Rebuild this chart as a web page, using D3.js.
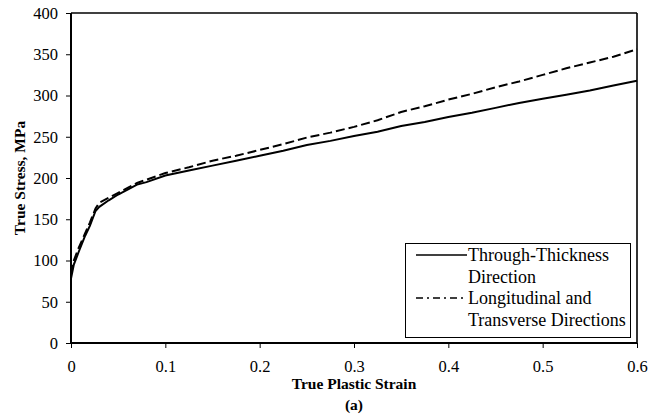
<!DOCTYPE html>
<html>
<head>
<meta charset="utf-8">
<script src="https://cdn.jsdelivr.net/npm/d3@7"></script>
<style>
  html, body { margin: 0; padding: 0; background: #fff; }
  svg { display: block; }
  text { font-family: "Liberation Serif", "Times New Roman", serif; fill: #000; }
</style>
</head>
<body>
<svg id="chart" width="659" height="420"></svg>
<script>
// True plastic strain (x) and true stress in MPa (y) for each test direction
const throughStrain = [0, 0.003, 0.008, 0.015, 0.02, 0.026, 0.03, 0.04, 0.05, 0.06, 0.07, 0.08, 0.1, 0.125, 0.15, 0.175, 0.2, 0.225, 0.25, 0.275, 0.3, 0.325, 0.35, 0.375, 0.4, 0.425, 0.45, 0.475, 0.5, 0.525, 0.55, 0.575, 0.6];
const throughStress = [78, 95, 110, 130, 142, 160, 165, 173, 180, 186, 192, 195, 203, 209, 215, 221, 227, 233, 240, 245, 251, 256, 263, 268, 274, 279, 285, 291, 296, 301, 306, 312, 318];

const longStrain = [0, 0.003, 0.008, 0.015, 0.02, 0.026, 0.03, 0.04, 0.05, 0.06, 0.07, 0.08, 0.1, 0.125, 0.15, 0.175, 0.2, 0.225, 0.25, 0.275, 0.3, 0.325, 0.35, 0.375, 0.4, 0.425, 0.45, 0.475, 0.5, 0.525, 0.55, 0.575, 0.6];
const longStress = [84, 100, 115, 133, 146, 163, 170, 176, 182, 188, 194, 198, 206, 213, 221, 227, 234, 241, 249, 255, 262, 270, 280, 287, 295, 302, 310, 317, 325, 333, 340, 347, 356];

const xTicks = [0, 0.1, 0.2, 0.3, 0.4, 0.5, 0.6];
const yTicks = [0, 50, 100, 150, 200, 250, 300, 350, 400];

const legendLines1 = ["Through-Thickness", "Direction"];
const legendLines2 = ["Longitudinal and", "Transverse Directions"];

const svg = d3.select("#chart");
const plotLeft = 71, plotRight = 637, plotTop = 13, plotBottom = 343;

const x = d3.scaleLinear().domain([0, 0.6]).range([plotLeft, plotRight]);
const y = d3.scaleLinear().domain([0, 400]).range([plotBottom, plotTop]);

// frame (top and right edges)
svg.append("line").attr("x1", plotLeft).attr("x2", plotRight).attr("y1", plotTop).attr("y2", plotTop)
  .attr("stroke", "#000").attr("stroke-width", 1.6);
svg.append("line").attr("x1", plotRight).attr("x2", plotRight).attr("y1", plotTop).attr("y2", plotBottom)
  .attr("stroke", "#000").attr("stroke-width", 1.6);

// axes
const xAxis = svg.append("g").attr("transform", `translate(0,${plotBottom})`)
  .call(d3.axisBottom(x).tickValues(xTicks).tickSize(5).tickPadding(12)
    .tickFormat(d => d === 0 ? "0" : d3.format(".1f")(d)));
const yAxis = svg.append("g").attr("transform", `translate(${plotLeft},0)`)
  .call(d3.axisLeft(y).tickValues(yTicks).tickSize(5).tickPadding(8));

[xAxis, yAxis].forEach(g => {
  g.select(".domain").attr("stroke", "#000").attr("stroke-width", 2);
  g.selectAll(".tick line").attr("stroke", "#000").attr("stroke-width", 1);
  g.selectAll(".tick text").style("font-family", "'Liberation Serif', serif").style("font-size", "16.5px");
});
yAxis.select(".domain").attr("d", `M0,${plotTop}V${plotBottom}`);
xAxis.select(".domain").attr("d", `M${plotLeft},0H${plotRight}`);

// curves
const line = d3.line().x(d => x(d[0])).y(d => y(d[1]));
const throughData = throughStrain.map((s, i) => [s, throughStress[i]]);
const longData = longStrain.map((s, i) => [s, longStress[i]]);

svg.append("path").datum(longData).attr("d", line)
  .attr("fill", "none").attr("stroke", "#000").attr("stroke-width", 2)
  .attr("stroke-dasharray", "9,4");
svg.append("path").datum(throughData).attr("d", line)
  .attr("fill", "none").attr("stroke", "#000").attr("stroke-width", 2);

// axis titles
svg.append("text").attr("x", (plotLeft + plotRight) / 2).attr("y", 389)
  .attr("text-anchor", "middle").style("font-size", "15.5px").style("font-weight", "bold")
  .text("True Plastic Strain");
svg.append("text").attr("x", (plotLeft + plotRight) / 2).attr("y", 410)
  .attr("text-anchor", "middle").style("font-size", "15.5px").style("font-weight", "bold")
  .text("(a)");
svg.append("text")
  .attr("transform", `translate(25,${(plotTop + plotBottom) / 2}) rotate(-90)`)
  .attr("text-anchor", "middle").style("font-size", "15.5px").style("font-weight", "bold")
  .text("True Stress, MPa");

// legend
const lg = svg.append("g");
lg.append("rect").attr("x", 405.5).attr("y", 243.5).attr("width", 225).attr("height", 94)
  .attr("fill", "#fff").attr("stroke", "#000").attr("stroke-width", 1);
lg.append("line").attr("x1", 416).attr("x2", 467).attr("y1", 255).attr("y2", 255)
  .attr("stroke", "#000").attr("stroke-width", 1.5);
lg.append("line").attr("x1", 416).attr("x2", 467).attr("y1", 298).attr("y2", 298)
  .attr("stroke", "#000").attr("stroke-width", 1.5).attr("stroke-dasharray", "7,4,2,4");
legendLines1.forEach((t, i) => {
  lg.append("text").attr("x", 468).attr("y", 261 + i * 21.5).style("font-size", "18px").text(t);
});
legendLines2.forEach((t, i) => {
  lg.append("text").attr("x", 468).attr("y", 304 + i * 21.5).style("font-size", "18px").text(t);
});
</script>
</body>
</html>
